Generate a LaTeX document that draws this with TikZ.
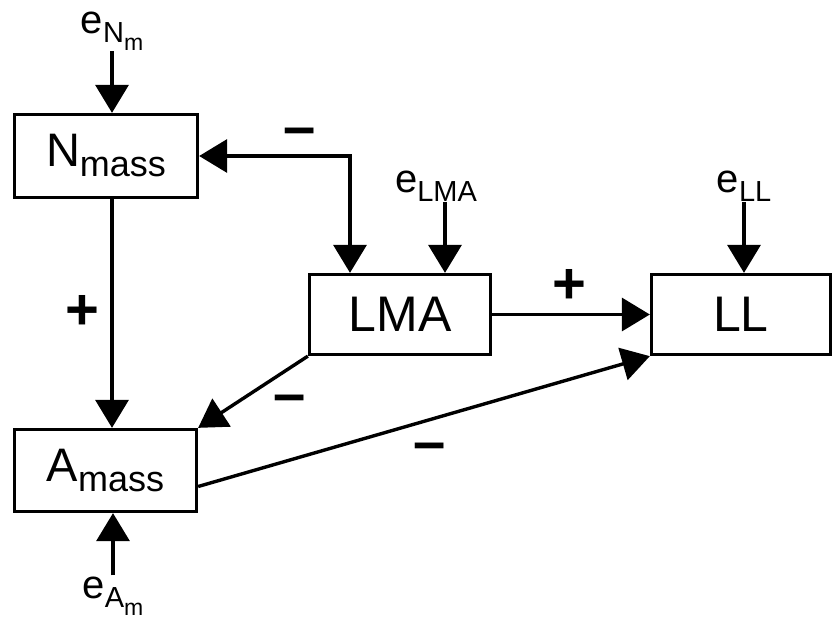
\documentclass[tikz,border=0pt]{standalone}
\usepackage{fontspec}
\setmainfont{Liberation Sans}
\newfontfamily\signfont{Liberation Sans}
\usetikzlibrary{arrows.meta}

% box label with subscript, e label with subscript
\newcommand{\blbl}[2]{{\fontsize{47}{47}\selectfont #1}\raisebox{-10pt}{\fontsize{36}{36}\selectfont #2}}
\newcommand{\elbl}[1]{{\fontsize{40}{40}\selectfont e}\raisebox{-9pt}{\fontsize{29}{29}\selectfont #1}}

\begin{document}
\begin{tikzpicture}[x=1pt, y=-1pt,
  bx/.style={draw=black, line width=3.3pt, inner sep=0pt},
  lb/.style={inner sep=1pt, anchor=base},
  sg/.style={font={\signfont\bfseries\fontsize{58}{58}\selectfont}, inner sep=0pt},
  ar/.style={draw=black, line width=3.4pt, -{Triangle[width=33pt,length=28pt]}},
  ar2/.style={draw=black, line width=3.4pt, {Triangle[width=33pt,length=28pt]}-{Triangle[width=33pt,length=28pt]}}]
\useasboundingbox (0,0) rectangle (833,619);
% boxes
\node[bx, minimum width=183pt, minimum height=83pt] (nm) at (106,156) {\blbl{N}{mass}};
\node[bx, minimum width=182pt, minimum height=82pt] (am) at (105.5,470.5) {\blbl{A}{mass}};
\node[bx, minimum width=181pt, minimum height=80pt, font=\fontsize{50}{50}\selectfont] (lma) at (400,314.5) {LMA};
\node[bx, minimum width=179pt, minimum height=80pt, font=\fontsize{50}{50}\selectfont] (ll) at (741,314.5) {LL};
% error terms
\node[lb] (enm) at (112,33) {\elbl{N\raisebox{-8pt}{\fontsize{23}{23}\selectfont m}}};
\node[lb] (elma) at (436,192) {\elbl{LMA}};
\node[lb] (ell) at (744,192) {\elbl{LL}};
\node[lb] (eam) at (113,598) {\elbl{A\raisebox{-8pt}{\fontsize{23}{23}\selectfont m}}};
% signs
\node[sg] (s1) at (299.5,137) {–};
\node[sg] (s2) at (569.5,286) {+};
\node[sg] (s3) at (82,312) {+};
\node[sg] (s4) at (290,404) {–};
\node[sg] (s5) at (429.5,452) {–};
% connectors
\draw[ar] (enm.south) -- (enm.south |- nm.north);
\draw[ar] ([xshift=9pt]elma.south) -- ([xshift=9pt]elma.south |- lma.north);
\draw[ar] (ell.south) -- (ell.south |- ll.north);
\draw[ar] (eam.north) -- (eam.north |- am.south);
\draw[ar2] (nm.east) -| ([xshift=-50pt]lma.north);
\draw[ar] (enm.south |- nm.south) -- (enm.south |- am.north);
\draw[ar] (lma.east) -- (ll.west);
\draw[ar] (lma.south west) -- (am.north east);
\draw[ar] ([yshift=-16pt]am.east) -- (ll.south west);
\end{tikzpicture}
\end{document}
